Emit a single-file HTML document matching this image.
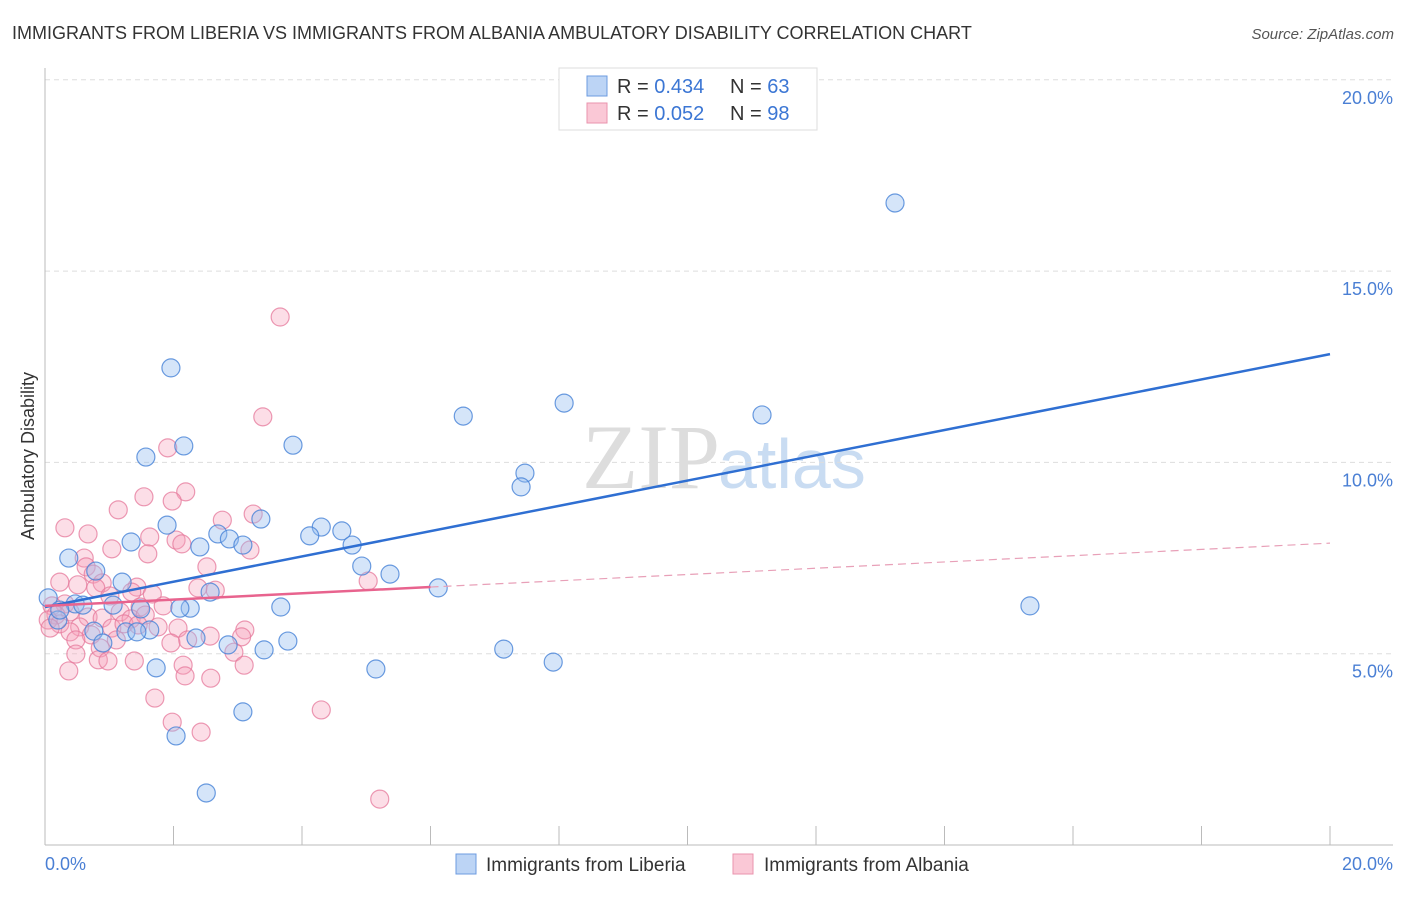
<!DOCTYPE html>
<html><head><meta charset="utf-8"><style>
body{margin:0;background:#fff;font-family:"Liberation Sans",sans-serif}
</style></head><body>
<svg width="1406" height="892" xmlns="http://www.w3.org/2000/svg" id="chart">
<text x="12" y="39" font-size="18" fill="#333">IMMIGRANTS FROM LIBERIA VS IMMIGRANTS FROM ALBANIA AMBULATORY DISABILITY CORRELATION CHART</text>
<text x="1394" y="39" font-size="15" fill="#555" font-style="italic" text-anchor="end">Source: ZipAtlas.com</text>
<text x="720" y="488" font-size="92" fill="#ddd" text-anchor="end" font-family="Liberation Serif">ZIP</text>
<text x="718" y="488" font-size="70" fill="#c9dcf2">atlas</text>
<g id="grid"></g>
<g id="pts"></g>
<g id="lines"></g>
<text transform="translate(34,456) rotate(-90)" font-size="18" fill="#333" text-anchor="middle">Ambulatory Disability</text>
<text x="45" y="870" font-size="18" fill="#4a7fd4">0.0%</text>
<text x="1393" y="870" font-size="18" fill="#4a7fd4" text-anchor="end">20.0%</text>
<g>
<rect x="559" y="68" width="258" height="62" fill="#fff" stroke="#ddd"/>
<rect x="587" y="76" width="20" height="20" fill="#bcd4f5" stroke="#6c9be0"/>
<rect x="587" y="103" width="20" height="20" fill="#fac8d6" stroke="#ea93ad"/>
<text x="617" y="93" font-size="20" fill="#333">R = <tspan fill="#3b76d4">0.434</tspan></text>
<text x="730" y="93" font-size="20" fill="#333">N = <tspan fill="#3b76d4">63</tspan></text>
<text x="617" y="120" font-size="20" fill="#333">R = <tspan fill="#3b76d4">0.052</tspan></text>
<text x="730" y="120" font-size="20" fill="#333">N = <tspan fill="#3b76d4">98</tspan></text>
</g>
<g>
<rect x="456" y="854" width="20" height="20" fill="#bcd4f5" stroke="#6c9be0"/>
<text x="486" y="871" font-size="19" fill="#333">Immigrants from Liberia</text>
<rect x="733" y="854" width="20" height="20" fill="#fac8d6" stroke="#ea93ad"/>
<text x="764" y="871" font-size="19" fill="#333">Immigrants from Albania</text>
</g>
</svg>
<script>
const yTicks=[5,10,15,20];
const yTickLabels=["5.0%","10.0%","15.0%","20.0%"];
const xTicks=[0,2,4,6,8,10,12,14,16,18,20];
const liberiaX=[13.23,1.96,8.08,6.51,11.16,2.16,3.86,1.57,7.47,7.41,3.36,1.90,4.30,4.62,2.69,4.12,2.87,1.34,2.41,3.08,4.78,0.37,0.79,4.93,5.37,1.20,6.12,2.57,0.05,0.47,0.59,1.06,1.49,2.26,3.67,15.33,2.10,0.20,0.76,1.26,1.63,1.43,2.35,3.78,2.85,0.90,3.41,7.14,7.91,1.73,5.15,3.08,2.04,2.51,0.23];
const liberiaY=[16.78,12.47,11.55,11.21,11.24,10.43,10.45,10.14,9.72,9.36,8.52,8.36,8.31,8.21,8.13,8.08,8.00,7.92,7.79,7.84,7.84,7.50,7.16,7.29,7.08,6.87,6.72,6.61,6.46,6.30,6.27,6.27,6.17,6.19,6.22,6.25,6.19,5.88,5.59,5.57,5.62,5.57,5.41,5.33,5.23,5.28,5.10,5.12,4.78,4.63,4.60,3.48,2.85,1.36,6.14];
const albaniaX=[3.66,3.39,1.91,2.19,1.54,1.98,1.14,3.24,2.76,0.31,0.67,1.63,2.04,2.13,1.04,3.19,1.60,0.61,0.64,0.75,2.52,5.03,0.23,0.51,0.89,1.43,0.79,2.38,1.35,1.67,2.65,1.01,0.31,0.11,1.84,1.48,0.39,1.17,0.17,0.67,0.89,1.34,1.56,0.05,0.23,0.54,1.04,1.23,1.45,1.76,2.07,0.08,0.39,0.72,3.11,2.57,2.22,1.11,0.48,3.06,1.96,0.86,2.94,0.48,0.83,0.98,1.39,3.10,2.15,0.37,2.18,2.58,1.71,4.30,1.98,2.43,5.21];
const albaniaY=[13.80,11.19,10.38,9.23,9.10,8.99,8.76,8.65,8.49,8.29,8.13,8.05,7.97,7.87,7.74,7.71,7.61,7.50,7.27,7.08,7.27,6.90,6.87,6.80,6.85,6.74,6.72,6.72,6.61,6.56,6.66,6.51,6.30,6.25,6.25,6.22,6.09,6.09,6.01,5.96,5.93,5.91,6.01,5.88,5.78,5.70,5.67,5.78,5.75,5.70,5.67,5.67,5.57,5.49,5.62,5.46,5.36,5.36,5.36,5.44,5.28,5.15,5.04,4.99,4.84,4.81,4.81,4.70,4.70,4.55,4.42,4.36,3.84,3.53,3.21,2.95,1.20];
const liberiaTrend=[6.22,12.83];
const albaniaTrend=[6.25,7.89];
const albaniaSolidEnd=6.0;
const NS="http://www.w3.org/2000/svg";
const X=v=>45+v/20*1285, Y=v=>845-v/5*191.3;
function mk(t,a,p){const e=document.createElementNS(NS,t);for(const k in a)e.setAttribute(k,a[k]);p.appendChild(e);return e;}
const g=document.getElementById('grid');
yTicks.forEach((t,i)=>{
 const l=mk('line',{x1:45,x2:1393,y1:Y(t),y2:Y(t),stroke:'#ddd','stroke-dasharray':'5,4'},g);
 
 
 const tx=mk('text',{x:1393,y:Y(t)+24,'font-size':18,fill:'#4a7fd4','text-anchor':'end'},g);
 tx.textContent=yTickLabels[i];
 
 
});
const ax=mk('line',{x1:45,x2:45,y1:68,y2:845,stroke:'#bbb'},g);


const bx=mk('line',{x1:45,x2:1393,y1:845,y2:845,stroke:'#bbb'},g);


xTicks.forEach(t=>{
 const l=mk('line',{x1:X(t),x2:X(t),y1:826,y2:845,stroke:'#bbb'},g);
 
 
});
const p=document.getElementById('pts');
albaniaX.forEach((v,i)=>{
 const c=mk('circle',{cx:X(v),cy:Y(albaniaY[i]),r:9,fill:'rgba(245,160,185,0.35)',stroke:'rgba(230,120,155,0.75)','stroke-width':1.2},p);
 
 
});
liberiaX.forEach((v,i)=>{
 const c=mk('circle',{cx:X(v),cy:Y(liberiaY[i]),r:9,fill:'rgba(150,190,240,0.4)',stroke:'rgba(70,130,215,0.8)','stroke-width':1.2},p);
 
 
});
const L=document.getElementById('lines');
const at=x=>albaniaTrend[0]+(albaniaTrend[1]-albaniaTrend[0])*x/20;
let e=mk('line',{x1:X(0),y1:Y(liberiaTrend[0]),x2:X(20),y2:Y(liberiaTrend[1]),stroke:'#2f6fd2','stroke-width':2.5},L);


e=mk('line',{x1:X(0),y1:Y(at(0)),x2:X(albaniaSolidEnd),y2:Y(at(albaniaSolidEnd)),stroke:'#e8638e','stroke-width':2.5},L);


e=mk('line',{x1:X(albaniaSolidEnd),y1:Y(at(albaniaSolidEnd)),x2:X(20),y2:Y(at(20)),stroke:'#e8a0b8','stroke-width':1.2,'stroke-dasharray':'8,5'},L);


</script>
</body></html>
